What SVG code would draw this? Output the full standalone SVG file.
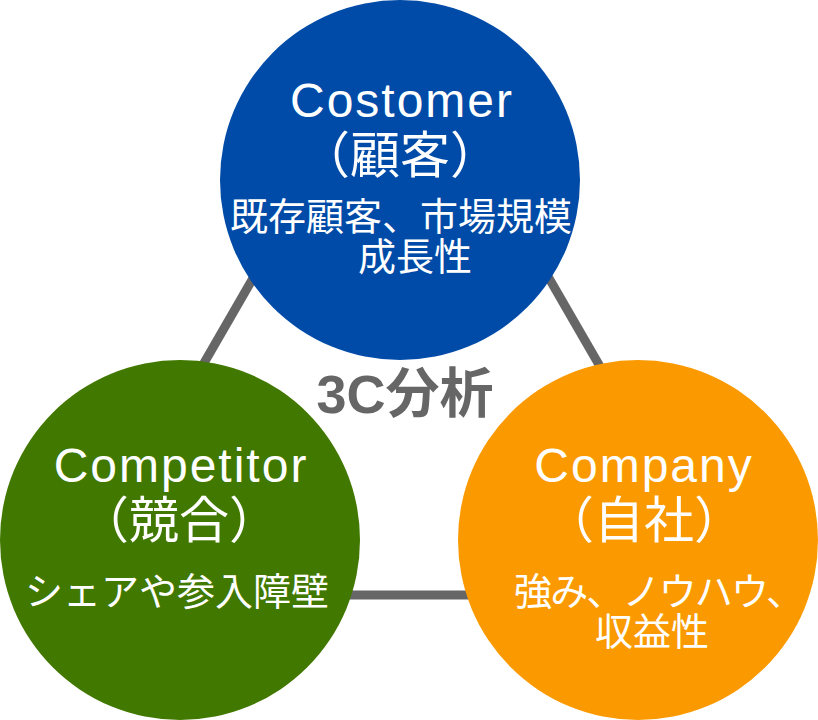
<svg xmlns="http://www.w3.org/2000/svg" width="818" height="720" viewBox="0 0 818 720">
<style>
.lat{font-family:"Liberation Sans","Noto Sans CJK JP",sans-serif;font-size:48px;letter-spacing:2px;fill:#fff;text-anchor:middle}
.par{font-family:"Noto Sans CJK JP",sans-serif;font-size:50px;fill:#fff;text-anchor:middle}
.desc{font-family:"Noto Sans CJK JP",sans-serif;font-size:38px;fill:#fff;text-anchor:middle}
.conn{stroke:#666;stroke-width:9;fill:none}
</style>
<rect width="818" height="720" fill="#fff"/>
<g id="connectors">
<line class="conn" x1="401" y1="22" x2="70" y2="595"/>
<line class="conn" x1="401" y1="22" x2="732" y2="595"/>
<line class="conn" x1="70" y1="595" x2="732" y2="595"/>
</g>
<g id="title">
<text x="405" y="413" font-family="Liberation Sans,'Noto Sans CJK JP',sans-serif" font-size="54" font-weight="bold" fill="#666" text-anchor="middle">3C分析</text>
</g>
<g id="customer">
<circle cx="400" cy="180" r="180" fill="#004BA8"/>
<text class="lat" x="402" y="117">Costomer</text>
<text class="par" x="400" y="173">（顧客）</text>
<text class="desc" x="401" y="230">既存顧客、市場規模</text>
<text class="desc" x="415" y="270">成長性</text>
</g>
<g id="competitor">
<circle cx="180" cy="540" r="180" fill="#407800"/>
<text class="lat" x="181" y="482">Competitor</text>
<text class="par" x="179" y="538">（競合）</text>
<text class="desc" x="177" y="605">シェアや参入障壁</text>
</g>
<g id="company">
<circle cx="638" cy="540" r="180" fill="#FA9A00"/>
<text class="lat" x="644" y="482">Company</text>
<text class="par" x="644" y="538">（自社）</text>
<text class="desc" x="514" y="605" style="text-anchor:start" textLength="290" lengthAdjust="spacing">強み、ノウハウ、</text>
<text class="desc" x="652" y="645">収益性</text>
</g>
</svg>
